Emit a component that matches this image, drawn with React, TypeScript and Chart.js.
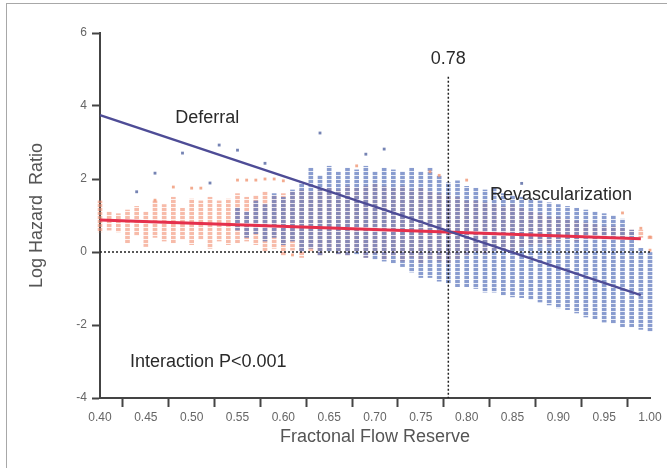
import React, { useEffect, useRef } from 'react';
import { Chart, registerables } from 'chart.js';

Chart.register(...registerables);

// ---- data ----
const columnX = [
  0.40, 0.41, 0.42, 0.43, 0.44, 0.45, 0.46, 0.47, 0.48, 0.49,
  0.50, 0.51, 0.52, 0.53, 0.54, 0.55, 0.56, 0.57, 0.58, 0.59,
  0.60, 0.61, 0.62, 0.63, 0.64, 0.65, 0.66, 0.67, 0.68, 0.69,
  0.70, 0.71, 0.72, 0.73, 0.74, 0.75, 0.76, 0.77, 0.78, 0.79,
  0.80, 0.81, 0.82, 0.83, 0.84, 0.85, 0.86, 0.87, 0.88, 0.89,
  0.90, 0.91, 0.92, 0.93, 0.94, 0.95, 0.96, 0.97, 0.98, 0.99,
  1.00,
];

const revascLow = [
  0.55, 0.60, 0.55, 0.25, 0.45, 0.15, 0.40, 0.30, 0.25, 0.35,
  0.20, 0.35, 0.10, 0.30, 0.20, 0.25, 0.30, 0.20, 0.00, 0.10,
  -0.10, 0.05, -0.15, 0.00, -0.10, 0.05, -0.05, -0.10, 0.00, -0.15,
  -0.05, -0.20, -0.10, -0.25, -0.15, -0.30, -0.20, -0.25, -0.30, -0.20,
  -0.10, 0.00, -0.05, 0.05, 0.10, 0.05, 0.15, 0.20, 0.25, 0.20,
  0.30, 0.35, 0.30, 0.40, 0.35, 0.40, 0.45, 0.40, 0.45, 0.40,
  0.35,
];
const revascHigh = [
  1.40, 1.10, 1.05, 1.15, 1.25, 1.10, 1.40, 1.30, 1.50, 1.20,
  1.45, 1.40, 1.50, 1.40, 1.45, 1.60, 1.50, 1.55, 1.65, 1.55,
  1.60, 1.65, 1.70, 1.65, 1.70, 1.75, 1.70, 1.80, 1.75, 1.80,
  1.85, 1.80, 1.75, 1.80, 1.70, 1.75, 1.65, 1.60, 1.55, 1.50,
  1.40, 1.40, 1.35, 1.30, 1.25, 1.30, 1.20, 1.10, 1.05, 0.95,
  0.95, 0.90, 0.85, 0.80, 0.75, 0.70, 0.70, 0.65, 0.60, 0.60,
  0.45,
];

const deferLow = [
  null, null, null, null, null, null, null, null, null, null,
  null, null, null, null, null, 0.60, 0.40, 0.50, 0.30, 0.40,
  0.20, 0.30, 0.00, 0.10, -0.10, 0.00, -0.05, -0.10, -0.05, -0.15,
  -0.20, -0.25, -0.30, -0.40, -0.55, -0.70, -0.70, -0.80, -0.85, -0.95,
  -0.95, -1.00, -1.10, -1.10, -1.18, -1.23, -1.25, -1.30, -1.37, -1.45,
  -1.53, -1.58, -1.67, -1.78, -1.83, -1.92, -1.95, -2.05, -2.05, -2.12,
  -2.17,
];
const deferHigh = [
  null, null, null, null, null, null, null, null, null, null,
  null, null, null, null, null, 1.20, 1.10, 1.40, 1.30, 1.60,
  1.50, 1.70, 1.90, 2.30, 2.10, 2.35, 2.20, 2.30, 2.25, 2.35,
  2.20, 2.30, 2.25, 2.20, 2.30, 2.20, 2.30, 2.10, 1.90, 1.95,
  1.80, 1.75, 1.70, 1.75, 1.60, 1.55, 1.50, 1.45, 1.40, 1.35,
  1.30, 1.25, 1.20, 1.15, 1.10, 1.05, 1.00, 0.90, 0.60, 0.10,
  0.00,
];

const deferOutX = [0.44, 0.46, 0.49, 0.52, 0.53, 0.55, 0.58, 0.64, 0.69, 0.71, 0.86];
const deferOutY = [1.65, 2.16, 2.71, 1.89, 2.93, 2.79, 2.43, 3.26, 2.68, 2.82, 1.88];

const revascOutX = [0.46, 0.48, 0.50, 0.51, 0.55, 0.56, 0.57, 0.58, 0.59, 0.60, 0.61, 0.68, 0.76, 0.77, 0.80, 0.97, 0.99, 1.00, 1.00];
const revascOutY = [1.42, 1.78, 1.75, 1.75, 1.97, 1.97, 1.97, 2.00, 2.00, 1.95, -0.08, 2.36, 2.20, 2.10, 1.97, 1.07, 0.65, 0.41, 0.05];

const deferralLineX = [0.40, 0.99];
const deferralLineY = [3.75, -1.18];
const revascLineX = [0.40, 0.99];
const revascLineY = [0.88, 0.36];

const cutoffValue = 0.78;
const cutoffTop = 4.8;

const xTicks = [0.40, 0.45, 0.50, 0.55, 0.60, 0.65, 0.70, 0.75, 0.80, 0.85, 0.90, 0.95, 1.00];
const yTicks = [-4, -2, 0, 2, 4, 6];

const annotationTexts = ['Deferral', 'Revascularization', 'Interaction P<0.001', '0.78'];

// ---- layout (positions in data units) ----
const annotationPos = [
  { x: 0.482, y: 3.67, align: 'left' },
  { x: 0.8254, y: 1.56, align: 'left' },
  { x: 0.4327, y: -3.01, align: 'left' },
  { x: 0.78, y: 5.3, align: 'center' },
];

const FONT = '"Liberation Sans", Arial, sans-serif';

const annotationPlugin = {
  id: 'annotations',
  afterDatasetsDraw(chart: any) {
    const { ctx, scales } = chart;
    ctx.save();
    ctx.font = `18px ${FONT}`;
    ctx.fillStyle = '#2a2a2a';
    ctx.textBaseline = 'middle';
    annotationTexts.forEach((t, i) => {
      const p = annotationPos[i];
      ctx.textAlign = p.align;
      ctx.fillText(t, scales.x.getPixelForValue(p.x), scales.y.getPixelForValue(p.y));
    });
    ctx.restore();
  },
};

function stripePattern(ctx: CanvasRenderingContext2D, color: string, gap: string) {
  const c = document.createElement('canvas');
  c.width = 1;
  c.height = 4;
  const g = c.getContext('2d')!;
  g.fillStyle = color;
  g.fillRect(0, 0, 1, 3);
  g.fillStyle = gap;
  g.fillRect(0, 3, 1, 1);
  return ctx.createPattern(c, 'repeat');
}

export default function App() {
  const ref = useRef<HTMLCanvasElement>(null);

  useEffect(() => {
    const canvas = ref.current!;
    const ctx = canvas.getContext('2d')!;
    const orangeFill = stripePattern(ctx, 'rgba(242,146,116,0.62)', 'rgba(242,146,116,0.1)');
    const blueFill = stripePattern(ctx, 'rgba(92,118,188,0.72)', 'rgba(92,118,188,0.12)');

    const revascCols: any[] = [];
    const deferCols: any[] = [];
    columnX.forEach((x, i) => {
      if (revascLow[i] != null) revascCols.push({ x, y: [revascLow[i], revascHigh[i]] });
      if (deferLow[i] != null) deferCols.push({ x, y: [deferLow[i], deferHigh[i]] });
    });

    const chart = new Chart(ctx, {
      type: 'scatter',
      data: {
        datasets: [
          {
            type: 'line',
            label: 'Deferral',
            data: deferralLineX.map((x, i) => ({ x, y: deferralLineY[i] })),
            borderColor: '#4e4c96',
            borderWidth: 2.5,
            pointRadius: 0,
            order: 0,
            clip: false,
          } as any,
          {
            type: 'line',
            label: 'Revascularization',
            data: revascLineX.map((x, i) => ({ x, y: revascLineY[i] })),
            borderColor: '#e5304c',
            borderWidth: 3,
            pointRadius: 0,
            order: 0,
            clip: false,
          },
          {
            type: 'line',
            label: 'zero',
            data: [{ x: xTicks[0], y: 0 }, { x: xTicks[xTicks.length - 1], y: 0 }],
            borderColor: '#222',
            borderWidth: 1.5,
            borderDash: [2, 2],
            pointRadius: 0,
            order: 1,
          },
          {
            type: 'line',
            label: 'cutoff',
            data: [{ x: cutoffValue, y: cutoffTop }, { x: cutoffValue, y: yTicks[0] }],
            borderColor: '#222',
            borderWidth: 1.5,
            borderDash: [2, 2],
            pointRadius: 0,
            order: 1,
          },
          {
            type: 'scatter',
            label: 'deferral outliers',
            data: deferOutX.map((x, i) => ({ x, y: deferOutY[i] })),
            pointStyle: 'rect',
            pointRadius: 2,
            backgroundColor: 'rgba(82,100,160,0.8)',
            borderWidth: 0,
            order: 2,
            clip: false,
          },
          {
            type: 'scatter',
            label: 'revasc outliers',
            data: revascOutX.map((x, i) => ({ x, y: revascOutY[i] })),
            pointStyle: 'rect',
            pointRadius: 2,
            backgroundColor: 'rgba(240,150,115,0.8)',
            borderWidth: 0,
            order: 2,
            clip: false,
          },
          {
            type: 'bar',
            label: 'deferral cols',
            data: deferCols,
            backgroundColor: blueFill as any,
            borderWidth: 0,
            barThickness: 4,
            grouped: false,
            order: 3,
            clip: false,
          } as any,
          {
            type: 'bar',
            label: 'revasc cols',
            data: revascCols,
            backgroundColor: orangeFill as any,
            borderWidth: 0,
            barThickness: 4,
            grouped: false,
            order: 4,
            clip: false,
          } as any,
        ],
      },
      options: {
        animation: false,
        responsive: false,
        devicePixelRatio: 1,
        layout: { padding: { top: 33, right: 17, bottom: 0, left: 0 } },
        plugins: { legend: { display: false }, tooltip: { enabled: false } },
        scales: {
          x: {
            type: 'linear',
            min: 0.4,
            max: 1.0,
            offset: false,
            afterBuildTicks: (s: any) => { s.ticks = xTicks.map((v) => ({ value: v })); },
            afterFit: (s: any) => { s.height = 70; },
            ticks: {
              callback: (v: any) => Number(v).toFixed(2),
              font: { family: FONT, size: 12 },
              color: '#666',
              padding: 3,
              maxRotation: 0,
              autoSkip: false,
            },
            grid: { drawOnChartArea: false, drawTicks: true, tickLength: 9, tickWidth: 2, tickColor: '#444' },
            border: { display: true, color: '#444', width: 2 },
            title: {
              display: true,
              text: 'Fractonal Flow Reserve',
              font: { family: FONT, size: 18 },
              color: '#555',
              padding: { top: 0, bottom: 20 },
            },
          },
          y: {
            type: 'linear',
            min: -4,
            max: 6,
            afterBuildTicks: (s: any) => { s.ticks = yTicks.map((v) => ({ value: v })); },
            afterFit: (s: any) => { s.width = 100; },
            ticks: {
              font: { family: FONT, size: 12 },
              color: '#666',
              padding: 5,
            },
            grid: { drawOnChartArea: false, drawTicks: true, tickLength: 8, tickWidth: 2, tickColor: '#444' },
            border: { display: true, color: '#444', width: 2 },
            title: {
              display: true,
              text: 'Log Hazard  Ratio',
              font: { family: FONT, size: 18 },
              color: '#555',
              padding: { top: 26, bottom: 0 },
            },
          },
        },
      },
      plugins: [annotationPlugin],
    });
    return () => chart.destroy();
  }, []);

  return (
    <div style={{ position: 'absolute', left: 0, top: 0, width: 667, height: 468, background: '#fff', overflow: 'hidden' }}>
      <div
        style={{
          position: 'absolute',
          left: 6,
          top: 3,
          right: -2,
          bottom: -2,
          borderTop: '1px solid #a8a8a8',
          borderLeft: '1px solid #a8a8a8',
        }}
      />
      <canvas ref={ref} width={667} height={468} style={{ position: 'absolute', left: 0, top: 0, width: 667, height: 468 }} />
    </div>
  );
}
